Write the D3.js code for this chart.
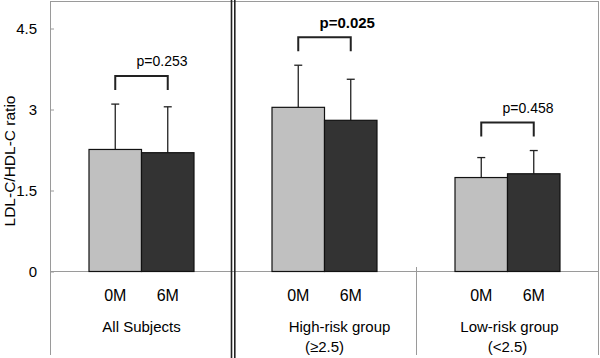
<!DOCTYPE html>
<html><head><meta charset="utf-8">
<script src="https://cdn.jsdelivr.net/npm/d3@7"></script>
<style>body{margin:0;background:#fff}svg{display:block;font-family:"Liberation Sans",Arial,sans-serif}</style>
</head><body><svg id="c" width="600" height="358"></svg>
<script>
const groups = ["All Subjects", "High-risk group", "Low-risk group"];
const groupSub = ["", "(\u22652.5)", "(<2.5)"];
const times = ["0M", "6M"];
const means0M = [2.26, 3.04, 1.74];
const means6M = [2.20, 2.80, 1.81];
const upper0M = [3.10, 3.82, 2.11];
const upper6M = [3.05, 3.56, 2.24];
const pValues = ["p=0.253", "p=0.025", "p=0.458"];
const pBold = [false, true, false];
const yTicks = [0, 1.5, 3, 4.5];
const colors = ["#c0c0c0", "#333333"];
const labelShift = [0, 15, 2];

const svg = d3.select("#c");
const L = 50, R = 599, T = 1.5, B = 271.5, BOT = 355;
const y = d3.scaleLinear().domain([0, 5]).range([B, T]);
const x0 = d3.scaleBand().domain(groups).range([L, R]).padding(0);
const x1 = d3.scaleBand().domain(times).range([0, x0.bandwidth()]).paddingInner(0).paddingOuter(0.743);
const gray = "#9a9a9a";

// frame
svg.append("line").attr("x1", L).attr("x2", R).attr("y1", 1.5).attr("y2", 1.5).attr("stroke", gray);
svg.append("line").attr("x1", L).attr("x2", R).attr("y1", B).attr("y2", B).attr("stroke", gray);
svg.append("line").attr("x1", R - 0.5).attr("x2", R - 0.5).attr("y1", 1).attr("y2", BOT).attr("stroke", gray);

// y axis
const ya = svg.append("g").attr("transform", `translate(${L},0)`)
  .call(d3.axisLeft(y).tickValues(yTicks).tickSize(-4).tickPadding(13).tickFormat(d => d === 0 ? "0" : String(d)));
ya.select(".domain").remove();
ya.selectAll(".tick line").attr("stroke", gray);
ya.selectAll(".tick text").attr("font-size", 15).attr("fill", "#000").attr("font-family", "Liberation Sans, Arial, sans-serif").attr("dy", "0.35em");
svg.append("line").attr("x1", L + 0.5).attr("x2", L + 0.5).attr("y1", 1).attr("y2", BOT).attr("stroke", gray);

svg.append("text").attr("transform", `translate(15,161) rotate(-90)`)
  .attr("text-anchor", "middle").attr("font-size", 15.5).text("LDL-C/HDL-C ratio");

// separators
const sep1 = x0(groups[1]);
svg.append("line").attr("x1", sep1 - 1.5).attr("x2", sep1 - 1.5).attr("y1", 0).attr("y2", 358).attr("stroke", "#222").attr("stroke-width", 1.6);
svg.append("line").attr("x1", sep1 + 1.8).attr("x2", sep1 + 1.8).attr("y1", 0).attr("y2", 358).attr("stroke", "#222").attr("stroke-width", 1.6);
const sep2 = x0(groups[2]);
svg.append("line").attr("x1", sep2 + 0.5).attr("x2", sep2 + 0.5).attr("y1", 267).attr("y2", BOT).attr("stroke", gray);

const data = [];
groups.forEach((g, i) => {
  data.push({ g, t: "0M", m: means0M[i], u: upper0M[i], c: colors[0] });
  data.push({ g, t: "6M", m: means6M[i], u: upper6M[i], c: colors[1] });
});

// error bars
const cap = 4;
data.forEach(d => {
  const cx = x0(d.g) + x1(d.t) + x1.bandwidth() / 2;
  svg.append("line").attr("x1", cx).attr("x2", cx).attr("y1", y(d.m)).attr("y2", y(d.u)).attr("stroke", "#222").attr("stroke-width", 1.3);
  svg.append("line").attr("x1", cx - cap).attr("x2", cx + cap).attr("y1", y(d.u)).attr("y2", y(d.u)).attr("stroke", "#222").attr("stroke-width", 1.3);
});

svg.selectAll("rect.bar").data(data).join("rect").attr("class", "bar")
  .attr("x", d => x0(d.g) + x1(d.t)).attr("width", x1.bandwidth())
  .attr("y", d => y(d.m)).attr("height", d => y(0) - y(d.m))
  .attr("fill", d => d.c).attr("stroke", "#111").attr("stroke-width", 1.2);

// brackets + p values
groups.forEach((g, i) => {
  const xa = x0(g) + x1("0M") + x1.bandwidth() / 2;
  const xb = x0(g) + x1("6M") + x1.bandwidth() / 2;
  const top = y(Math.max(upper0M[i], upper6M[i])) - 28;
  svg.append("path").attr("d", `M${xa},${top + 14}V${top}H${xb}V${top + 14}`)
    .attr("fill", "none").attr("stroke", "#222").attr("stroke-width", 2);
  svg.append("text").attr("x", (xa + xb) / 2 - 5).attr("y", top - (pBold[i] ? 9 : 10))
    .attr("font-size", pBold[i] ? 15 : 14).attr("font-weight", pBold[i] ? "bold" : "normal").text(pValues[i]);
});

// x labels
data.forEach(d => {
  svg.append("text").attr("x", x0(d.g) + x1(d.t) + x1.bandwidth() / 2).attr("y", 301)
    .attr("text-anchor", "middle").attr("font-size", 16).text(d.t);
});
groups.forEach((g, i) => {
  const cx = x0(g) + x0.bandwidth() / 2;
  svg.append("text").attr("x", cx + labelShift[i]).attr("y", 332).attr("text-anchor", "middle").attr("font-size", 15).text(g);
  if (groupSub[i]) svg.append("text").attr("x", cx).attr("y", 352).attr("text-anchor", "middle").attr("font-size", 15).text(groupSub[i]);
});
</script></body></html>
